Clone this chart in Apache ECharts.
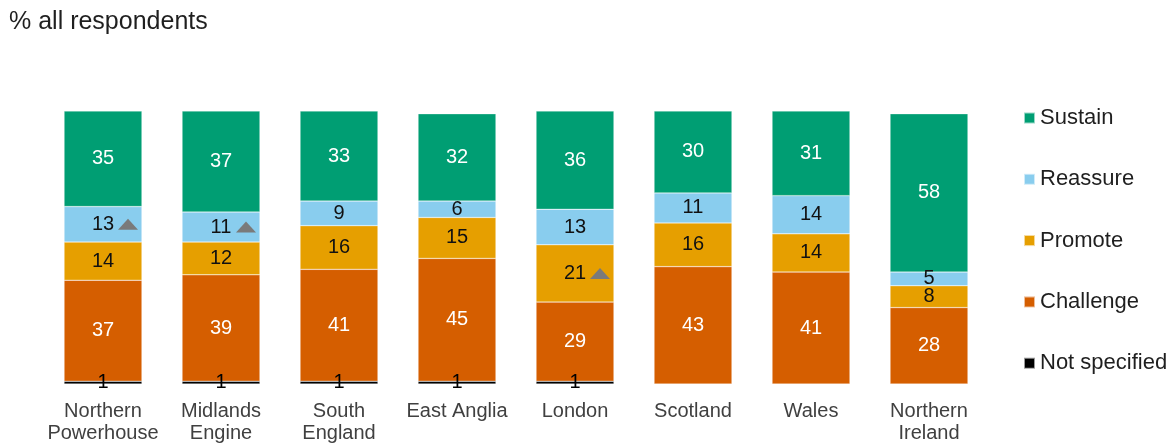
<!DOCTYPE html>
<html>
<head>
<meta charset="utf-8">
<script src="https://cdn.jsdelivr.net/npm/echarts@6/dist/echarts.min.js"></script>
<style>
  html, body { margin: 0; padding: 0; background: #fff; }
  #chart { width: 1174px; height: 444px; }
</style>
</head>
<body>
<div id="chart"></div>
<script>
// Regions along the x axis
const categories = ['Northern\nPowerhouse', 'Midlands\nEngine', 'South\nEngland', 'East Anglia', 'London', 'Scotland', 'Wales', 'Northern\nIreland'];

// Share of respondents (%) per segment, bottom to top of each stack
const notSpecified = [1, 1, 1, 1, 1, null, null, null];
const challenge    = [37, 39, 41, 45, 29, 43, 41, 28];
const promote      = [14, 12, 16, 15, 21, 16, 14, 8];
const reassure     = [13, 11, 9, 6, 13, 11, 14, 5];
const sustain      = [35, 37, 33, 32, 36, 30, 31, 58];

// Segments flagged with an upward change marker
const promoteUp  = [false, false, false, false, true, false, false, false];
const reassureUp = [true, true, false, false, false, false, false, false];

const legendOrder = ['Sustain', 'Reassure', 'Promote', 'Challenge', 'Not specified'];

const FONT = '"Liberation Sans", Arial, sans-serif';

// Stack order, bottom first
const stackValues = [notSpecified, challenge, promote, reassure, sustain];

// Midpoint (in axis units) of a segment within its stack
function segmentMid(level, i) {
  let base = 0;
  for (let k = 0; k < level; k++) base += stackValues[k][i] || 0;
  return base + (stackValues[level][i] || 0) / 2;
}

// Grey up-triangle markers next to flagged segment labels
function upMarkers(level, flags) {
  const pts = [];
  flags.forEach(function (f, i) {
    if (f) pts.push({ coord: [i, segmentMid(level, i)] });
  });
  return {
    symbol: 'triangle',
    symbolSize: [20, 11],
    symbolOffset: [25, 0],
    silent: true,
    itemStyle: { color: '#7a7a7a' },
    label: { show: false },
    data: pts
  };
}

function makeSeries(name, values, color, textColor, marks) {
  const s = {
    name: name,
    type: 'bar',
    stack: 'total',
    barWidth: '66%',
    data: values,
    itemStyle: { color: color, borderColor: 'rgba(255,255,255,0.6)', borderWidth: 0.5 },
    label: {
      show: true,
      position: 'inside',
      color: textColor,
      fontFamily: FONT,
      fontSize: 20,
      formatter: function (p) {
        return (p.value == null || p.value === 0) ? '' : String(p.value);
      }
    },
    emphasis: { disabled: true }
  };
  if (marks) s.markPoint = marks;
  return s;
}

const chart = echarts.init(document.getElementById('chart'), null, { renderer: 'canvas' });

chart.setOption({
  animation: false,
  backgroundColor: '#ffffff',
  title: {
    text: '% all respondents',
    left: 9,
    top: 10,
    padding: 0,
    textStyle: { fontFamily: FONT, fontSize: 25, fontWeight: 'normal', color: '#1f1f1f' }
  },
  legend: {
    data: legendOrder,
    orient: 'vertical',
    left: 1023,
    top: 107,
    padding: 0,
    itemWidth: 11,
    itemHeight: 11,
    itemGap: 39.3,
    icon: 'rect',
    textStyle: { fontFamily: FONT, fontSize: 22, color: '#1f1f1f' }
  },
  grid: { left: 44, top: 111, width: 944, height: 273, outerBoundsMode: 'none', containLabel: false },
  xAxis: {
    type: 'category',
    data: categories,
    axisLine: { show: false },
    axisTick: { show: false },
    axisLabel: {
      interval: 0,
      margin: 16,
      fontFamily: FONT,
      fontSize: 20,
      lineHeight: 22,
      color: '#404040'
    }
  },
  yAxis: {
    type: 'value',
    min: 0,
    max: 100,
    show: false,
    splitLine: { show: false }
  },
  series: [
    makeSeries('Not specified', notSpecified, '#000000', '#000000', null),
    makeSeries('Challenge', challenge, '#D55E00', '#ffffff', null),
    makeSeries('Promote', promote, '#E69F00', '#111111', upMarkers(2, promoteUp)),
    makeSeries('Reassure', reassure, '#89CDEE', '#111111', upMarkers(3, reassureUp)),
    makeSeries('Sustain', sustain, '#009E73', '#ffffff', null)
  ]
});
</script>
</body>
</html>
